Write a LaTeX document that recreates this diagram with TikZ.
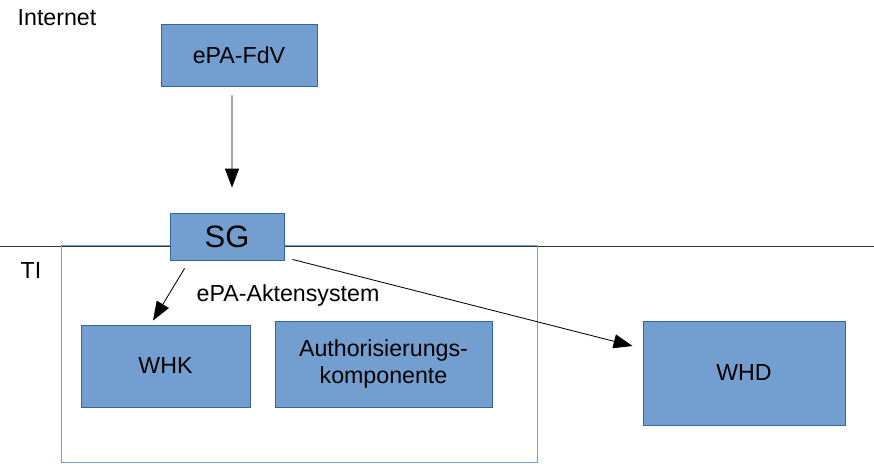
\documentclass[tikz,border=0pt]{standalone}
\usepackage{fontspec}
\setmainfont{Liberation Sans}
\usetikzlibrary{arrows.meta,positioning}
\definecolor{boxfill}{HTML}{729FCF}
\definecolor{boxline}{HTML}{3465A4}

\begin{document}
\begin{tikzpicture}[
    x=0.025cm, y=-0.025cm,
    block/.style={draw=boxline, fill=boxfill, line width=0.6pt, align=center, inner sep=0pt, font=\fontsize{16.5}{19}\selectfont},
    group/.style={draw=boxfill, line width=0.7pt, inner sep=0pt},
    conn/.style={-{Triangle[length=13.5pt, width=10pt]}, line width=0.6pt, draw=black},
    lbl/.style={font=\fontsize{16.5}{19}\selectfont, inner sep=0pt}
]
\useasboundingbox (0,0) rectangle (874,463);

% --- Zone boundary ---
\coordinate (zl) at (0,246);
\coordinate (zr) at (874,246);
\draw[line width=0.7pt, draw=black!80] (zl) -- (zr);
\node[lbl] (inet) at (57,18)  {Internet};
\node[lbl] (ti)   at (31,271) {TI};

% --- Container ---
\node[group, minimum width=11.875cm, minimum height=5.4cm] (akten) at (299.5,354) {};
\node[lbl] (aktenlbl) at (288,295) {ePA-Aktensystem};

% --- Components ---
\node[block, minimum width=3.9cm,   minimum height=1.55cm]  (fdv)  at (239,55)    {ePA-FdV};
\node[block, minimum width=2.85cm,  minimum height=1.175cm, font=\fontsize{22}{24}\selectfont] (sg) at (227,236.5) {SG};
\node[block, minimum width=4.225cm, minimum height=2.05cm]  (whk)  at (165.5,366) {WHK};
\node[block, minimum width=5.425cm, minimum height=2.15cm]  (auth) at (383.5,364) {Authorisierungs-\\komponente};
\node[block, minimum width=5.05cm,  minimum height=2.6cm]   (whd)  at (744,373)   {WHD};

% --- Connections ---
\draw[conn] ([shift={(-0.175cm,-0.225cm)}]fdv.south) -- ([shift={(0.125cm,0.625cm)}]sg.north);
\draw[conn] ([shift={(0.375cm,-0.2cm)}]sg.south west) -- ([shift={(-0.3125cm,0.1cm)}]whk.north);
\draw[conn] ([shift={(0.2cm,0.025cm)}]sg.south east) -- ([shift={(-0.25cm,0.675cm)}]whd.west);
\end{tikzpicture}
\end{document}
